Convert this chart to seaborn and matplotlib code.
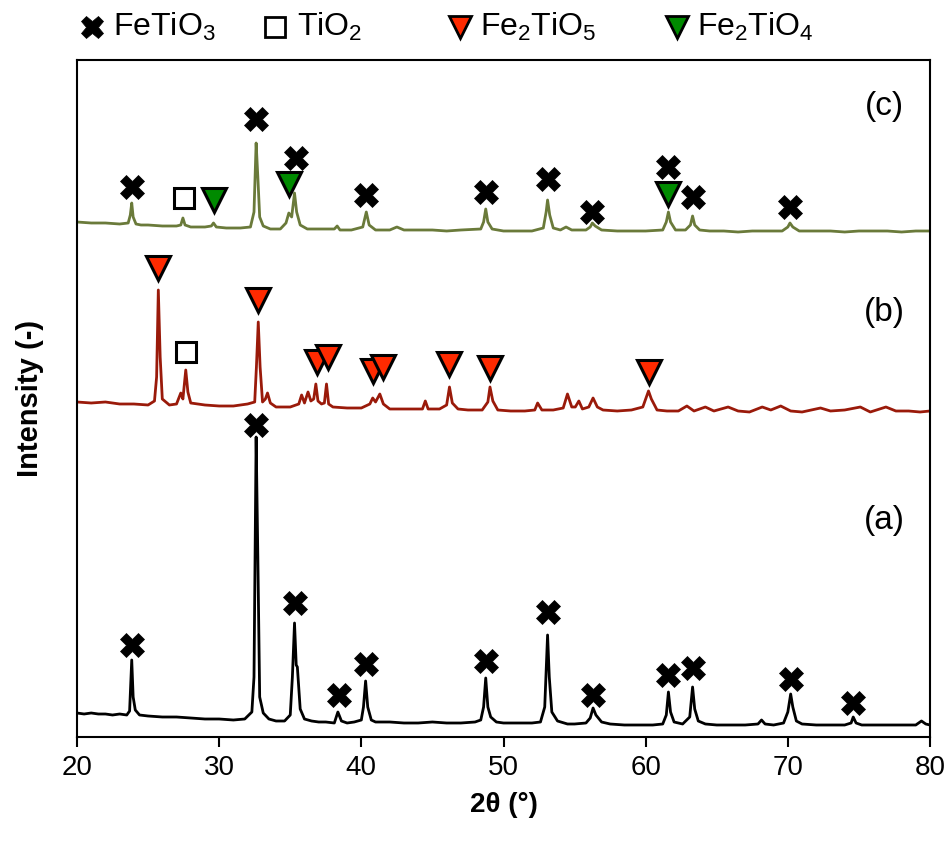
import matplotlib
matplotlib.use("Agg")
import matplotlib.pyplot as plt
from matplotlib.lines import Line2D
import seaborn as sns
import pandas as pd

# ---------------- XRD patterns (2θ in degrees, stacked intensity in a.u.) ----------------
tth_a = [20, 20.5, 21, 21.5, 22, 22.5, 23, 23.5, 23.7, 23.85, 23.95, 24.1, 24.4, 25, 26, 27, 28, 29, 30, 31,
         31.8, 32.3, 32.45, 32.6, 32.72, 32.85, 33.1, 33.5, 34, 34.6, 35.0, 35.15, 35.3, 35.42, 35.5, 35.7,
         36.0, 36.5, 37, 37.5, 38.1, 38.35, 38.6, 39, 39.5, 40.0, 40.15, 40.3, 40.45, 40.7, 41, 42, 43, 44,
         45, 46, 47, 48, 48.4, 48.6, 48.75, 48.9, 49.1, 49.5, 50, 51, 52, 52.6, 52.9, 53.1, 53.22, 53.4,
         53.8, 54.5, 55, 55.8, 56.1, 56.3, 56.5, 56.9, 57.5, 58.5, 59.5, 60.5, 61.2, 61.45, 61.6, 61.75, 62,
         62.6, 63.1, 63.3, 63.45, 63.7, 64.2, 65, 66, 67, 67.9, 68.15, 68.4, 69, 69.7, 70.0, 70.2, 70.35,
         70.6, 71, 72, 73, 74, 74.45, 74.6, 74.8, 75.2, 76, 77, 78, 79, 79.4, 79.7, 80]
int_a = [24, 23, 24, 23, 23, 22, 23, 22, 26, 77, 40, 27, 22, 21, 20, 20, 19, 18, 18, 17,
         18, 25, 60, 300, 180, 40, 24, 18, 16, 16, 22, 60, 114, 72, 70, 28,
         18, 16, 15, 15, 14, 25, 16, 14, 15, 17, 30, 56, 30, 17, 15, 15, 14, 14,
         15, 14, 14, 15, 17, 30, 59, 30, 20, 15, 14, 14, 14, 15, 30, 102, 60, 25,
         16, 13, 13, 14, 19, 29, 22, 15, 13, 12, 12, 12, 13, 22, 45, 25, 15,
         13, 20, 50, 28, 16, 13, 12, 12, 12, 13, 17, 13, 12, 14, 25, 43, 30,
         16, 13, 12, 12, 12, 14, 20, 14, 12, 12, 12, 12, 12, 16, 13, 12]

tth_b = [20, 21, 22, 23, 24, 25, 25.45, 25.6, 25.72, 25.85, 26.0, 26.5, 27, 27.3, 27.45, 27.65, 27.8, 28.0,
         29, 30, 31, 32, 32.5, 32.62, 32.75, 32.88, 33.05, 33.25, 33.4, 33.6, 34, 35, 35.6, 35.8, 36.0,
         36.25, 36.45, 36.65, 36.8, 36.95, 37.2, 37.4, 37.55, 37.7, 38, 39, 40, 40.6, 40.8, 41.0, 41.3,
         41.55, 42, 43, 44.3, 44.5, 44.7, 45.5, 46.0, 46.2, 46.4, 46.8, 47.5, 48.5, 48.9, 49.05, 49.25,
         49.6, 50.5, 51.5, 52.2, 52.4, 52.7, 53.5, 54.2, 54.5, 54.8, 55.05, 55.3, 55.55, 56.0, 56.3, 56.6,
         57, 58, 59, 59.8, 60.05, 60.2, 60.4, 60.8, 61.5, 62.3, 62.9, 63.4, 64.2, 64.8, 65.8, 66.5, 67.3,
         68.2, 68.8, 69.5, 70.2, 71, 72.3, 73, 74, 75.1, 75.8, 76.9, 77.6, 78.5, 79.3, 80]
int_b = [335, 334, 335, 333, 333, 332, 336, 360, 447, 380, 338, 332, 333, 344, 338, 367, 345, 334,
         332, 331, 331, 333, 335, 370, 415, 370, 335, 338, 344, 334, 330, 330, 333, 342, 334,
         345, 336, 338, 353, 336, 333, 334, 353, 333, 330, 329, 329, 333, 339, 335, 343,
         333, 328, 328, 328, 336, 328, 328, 332, 350, 334, 328, 327, 327, 335, 350, 336,
         327, 326, 326, 327, 334, 327, 327, 329, 343, 330, 330, 336, 328, 330, 339, 330,
         327, 326, 327, 330, 340, 346, 338, 327, 326, 326, 331, 326, 330, 326, 330, 326, 325,
         330, 327, 331, 326, 325, 329, 326, 327, 330, 325, 330, 326, 326, 325, 326]

tth_c = [20, 21, 22, 23, 23.6, 23.75, 23.85, 23.95, 24.15, 24.5, 25, 26, 27, 27.3, 27.45, 27.6, 28, 29,
         29.45, 29.6, 29.8, 30.5, 31.5, 32.2, 32.45, 32.6, 32.72, 32.85, 33.1, 33.6, 34.3, 34.7, 34.9,
         35.1, 35.3, 35.45, 35.7, 36.2, 37, 38.1, 38.3, 38.5, 39.3, 40.1, 40.35, 40.55, 41, 42, 42.5, 43,
         44, 45, 46, 47, 48.4, 48.6, 48.75, 48.9, 49.2, 50, 51, 52, 52.8, 53.0, 53.1, 53.25, 53.5, 54.0,
         54.4, 54.8, 55.8, 56.1, 56.25, 56.45, 56.9, 58, 59, 60, 61.2, 61.45, 61.6, 61.75, 62.1, 62.8,
         63.15, 63.3, 63.45, 63.8, 64.5, 65.5, 66.5, 67.5, 68.5, 69.6, 70.0, 70.15, 70.35, 70.8, 72, 73,
         74, 75, 76, 77, 78, 79, 80]
int_c = [515, 514, 514, 513, 514, 522, 534, 520, 513, 512, 512, 511, 511, 512, 519, 512, 510, 510,
         511, 514, 510, 509, 509, 510, 525, 594, 560, 520, 511, 508, 508, 514, 524,
         520, 544, 525, 512, 508, 508, 508, 511, 507, 507, 510, 525, 512, 507, 507, 510, 507,
         507, 507, 506, 507, 508, 515, 528, 515, 508, 506, 506, 506, 509, 525, 537, 522, 509, 507,
         510, 507, 507, 510, 514, 511, 507, 506, 506, 506, 507, 515, 525, 515, 507, 507,
         512, 521, 512, 507, 506, 506, 505, 506, 506, 506, 510, 514, 510, 506, 506, 506,
         505, 506, 506, 506, 505, 506, 506]

# ---------------- phase identification markers (2θ, height) ----------------
fetio3_tth = [23.85, 32.6, 35.3, 38.45, 40.3, 48.75, 53.1, 56.3, 61.6, 63.3, 70.2, 74.6,
              23.85, 32.6, 35.4, 40.35, 48.75, 53.1, 56.25, 61.6, 63.35, 70.15]
fetio3_y = [92, 312, 134, 42, 73, 76, 125, 42, 62, 69, 58, 34,
            550, 618, 579, 542, 545, 558, 525, 570, 540, 530]
tio2_tth = [27.65, 27.5]
tio2_y = [385, 539]
fe2tio5_tth = [25.7, 32.75, 36.85, 37.65, 40.85, 41.5, 46.2, 49.05, 60.2]
fe2tio5_y = [469, 437, 375, 380, 366, 370, 373, 369, 365]
fe2tio4_tth = [29.65, 34.9, 61.6]
fe2tio4_y = [537, 553, 543]

sample_labels = ["(a)", "(b)", "(c)"]
label_y = [217, 425, 630]
trace_colors = ["#000000", "#9A1A0A", "#6A7A3A"]

# ---------------- styling ----------------
sns.set_theme(style="white")
plt.rcParams["font.family"] = ["Liberation Sans", "DejaVu Sans"]
plt.rcParams["mathtext.fontset"] = "custom"
plt.rcParams["mathtext.rm"] = "Liberation Sans"
plt.rcParams["mathtext.it"] = "Liberation Sans:italic"
plt.rcParams["mathtext.bf"] = "Liberation Sans:bold"
for key in ["text.color", "axes.labelcolor", "xtick.color", "ytick.color", "axes.edgecolor"]:
    plt.rcParams[key] = "black"

W, H = 949, 843
fig = plt.figure(figsize=(W / 100, H / 100), dpi=100)
ax = fig.add_axes([77 / W, (H - 737) / H, (930 - 77) / W, (737 - 60) / H])

for tth, inten, col in zip([tth_a, tth_b, tth_c], [int_a, int_b, int_c], trace_colors):
    df = pd.DataFrame({"tth": tth, "I": inten})
    sns.lineplot(data=df, x="tth", y="I", color=col, lw=2.0, estimator=None, ax=ax)

mk = dict(linestyle="none", clip_on=False, zorder=5)
ax.plot(fetio3_tth, fetio3_y, marker="X", ms=17, color="black", mec="black", mew=0.5, **mk)
ax.plot(tio2_tth, tio2_y, marker="s", ms=15, mfc="white", mec="black", mew=2.2, **mk)
ax.plot(fe2tio5_tth, fe2tio5_y, marker="v", ms=17, mfc="#FF2A00", mec="black", mew=2.2, **mk)
ax.plot(fe2tio4_tth, fe2tio4_y, marker="v", ms=17, mfc="#008A00", mec="black", mew=2.2, **mk)

for lab, ly in zip(sample_labels, label_y):
    ax.text(76.8, ly, lab, fontsize=24, ha="center", va="center", color="black")

ax.set_xlim(20, 80)
ax.set_ylim(0, 677)
ax.set_xticks(range(20, 81, 10))
ax.set_yticks([])
ax.tick_params(axis="x", direction="out", length=7, width=1.5, labelsize=20, pad=6, bottom=True,
               colors="black")
for s in ax.spines.values():
    s.set_color("black")
    s.set_linewidth(1.5)
ax.set_xlabel("2θ (°)", fontsize=20, fontweight="bold", labelpad=8, color="black")
ax.set_ylabel("Intensity (-)", fontsize=21, fontweight="bold", labelpad=24, color="black")

# ---------------- legend row above the axes ----------------
ly_fig = 1 - 27 / H
legend_items = [
    (92, 113, "X", "black", "black", "FeTiO$_\\mathregular{3}$"),
    (275, 297, "s", "white", "black", "TiO$_\\mathregular{2}$"),
    (460, 480, "v", "#FF2A00", "black", "Fe$_\\mathregular{2}$TiO$_\\mathregular{5}$"),
    (677, 697, "v", "#008A00", "black", "Fe$_\\mathregular{2}$TiO$_\\mathregular{4}$"),
]
for mx, tx, m, fc, ec, txt in legend_items:
    ms = {"X": 16, "s": 14, "v": 16}[m]
    mew = 0.5 if m == "X" else 2.0
    fig.add_artist(Line2D([mx / W], [ly_fig], marker=m, ms=ms, mfc=fc, mec=ec, mew=mew,
                          linestyle="none", transform=fig.transFigure))
    fig.text(tx / W, ly_fig, txt, fontsize=23, ha="left", va="center", color="black")

fig.savefig("out.png", dpi=100)
